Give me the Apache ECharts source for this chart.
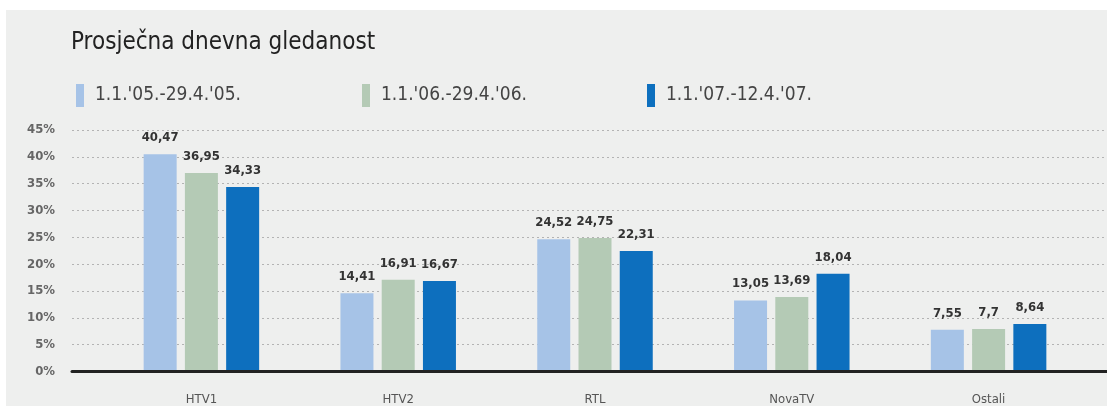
<!DOCTYPE html>
<html>
<head>
<meta charset="utf-8">
<script src="https://cdn.jsdelivr.net/npm/echarts@6/dist/echarts.min.js"></script>
<style>
    html, body {
        margin: 0;
        padding: 0;
        background: #ffffff;
    }
    #panel {
        position: absolute;
        left: 6px;
        top: 10px;
        width: 1101px;
        height: 396px;
        background: #eeefee;
    }
    #chart {
        position: absolute;
        left: 0;
        top: 0;
        width: 1107px;
        height: 406px;
    }
</style>
</head>
<body>
<div id="panel"></div>
<div id="chart"></div>
<script>
// podaci
var categories = ['HTV1', 'HTV2', 'RTL', 'NovaTV', 'Ostali'];
var seriesNames = ["1.1.'05.-29.4.'05.", "1.1.'06.-29.4.'06.", "1.1.'07.-12.4.'07."];
var data2005 = [40.47, 14.41, 24.52, 13.05, 7.55];
var data2006 = [36.95, 16.91, 24.75, 13.69, 7.7];
var data2007 = [34.33, 16.67, 22.31, 18.04, 8.64];
var yTicks = [0, 5, 10, 15, 20, 25, 30, 35, 40, 45];

var color = ['#a6c3e7', '#b4cab5', '#0d6fbe'];
var font = 'DejaVu Sans Condensed';

function legendItem(name, left) {
    return {
        data: [name],
        left: left,
        top: 84,
        padding: 0,
        icon: 'rect',
        itemWidth: 8,
        itemHeight: 23,
        selectedMode: false,
        textStyle: {
            fontFamily: font,
            fontSize: 19,
            color: '#444444',
            padding: [0, 0, 0, 6]
        }
    };
}

function barSeries(name, values, c) {
    return {
        name: name,
        type: 'bar',
        xAxisIndex: 1,
        yAxisIndex: 1,
        data: values,
        barWidth: 33,
        barGap: '25%',
        itemStyle: {
            color: c
        },
        label: {
            show: true,
            position: 'top',
            distance: 10,
            fontFamily: font,
            fontWeight: 'bold',
            fontSize: 13,
            color: '#333333',
            formatter: function (p) {
                return String(p.value).replace('.', ',');
            }
        }
    };
}

var option = {
    animation: false,
    backgroundColor: 'transparent',
    title: {
        text: 'Prosječna dnevna gledanost',
        left: 71,
        top: 31,
        padding: 0,
        textStyle: {
            fontFamily: font,
            fontWeight: 'normal',
            fontSize: 24,
            color: '#222222'
        }
    },
    legend: [
        legendItem(seriesNames[0], 76),
        legendItem(seriesNames[1], 362),
        legendItem(seriesNames[2], 647)
    ],
    grid: [
        {left: 72, right: 0, top: 130, bottom: 34.5},
        {left: 103, right: 20, top: 130, bottom: 34.5}
    ],
    xAxis: [
        {
            gridIndex: 0,
            type: 'value',
            min: 0,
            max: 1,
            axisLine: {
                show: true,
                lineStyle: {color: '#222222', width: 3}
            },
            axisTick: {show: false},
            axisLabel: {show: false},
            splitLine: {show: false}
        },
        {
            gridIndex: 1,
            type: 'category',
            data: categories,
            axisLine: {show: false},
            axisTick: {show: false},
            axisLabel: {
                margin: 23,
                fontFamily: font,
                fontSize: 13,
                color: '#555555'
            }
        }
    ],
    yAxis: [
        {
            gridIndex: 0,
            type: 'value',
            min: yTicks[0],
            max: yTicks[yTicks.length - 1],
            interval: yTicks[1] - yTicks[0],
            axisLine: {show: false},
            axisTick: {show: false},
            axisLabel: {
                margin: 17,
                fontFamily: font,
                fontWeight: 'bold',
                fontSize: 13,
                color: '#666666',
                formatter: '{value}%'
            },
            splitLine: {
                show: true,
                lineStyle: {
                    color: '#b3b3b3',
                    width: 1,
                    type: [2, 3]
                }
            }
        },
        {
            gridIndex: 1,
            type: 'value',
            min: yTicks[0],
            max: yTicks[yTicks.length - 1],
            show: false
        }
    ],
    series: [
        barSeries(seriesNames[0], data2005, color[0]),
        barSeries(seriesNames[1], data2006, color[1]),
        barSeries(seriesNames[2], data2007, color[2])
    ]
};

var chart = echarts.init(document.getElementById('chart'));
chart.setOption(option);
</script>
</body>
</html>
